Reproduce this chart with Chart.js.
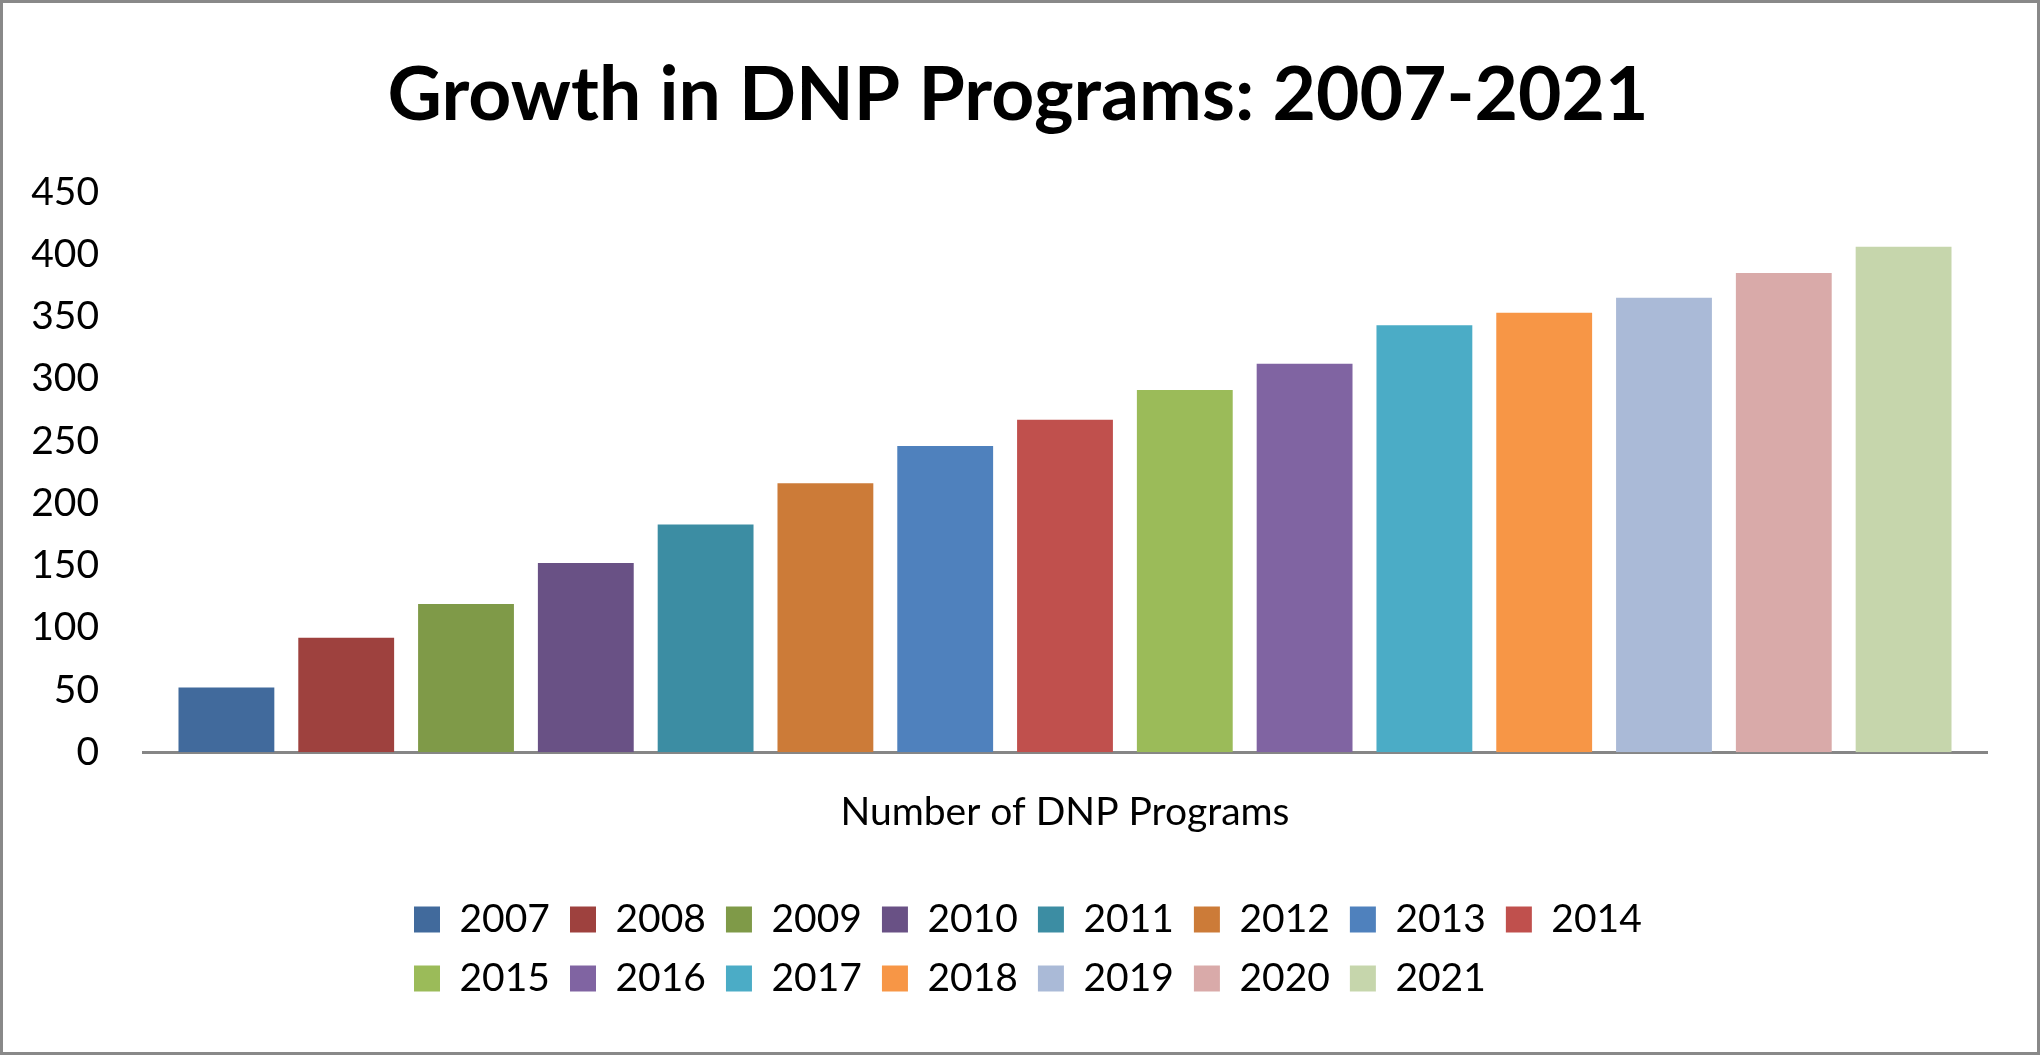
<!DOCTYPE html>
<html>
<head>
<meta charset="utf-8">
<script src="https://cdn.jsdelivr.net/npm/chart.js@4.4.1/dist/chart.umd.min.js"></script>
<style>
  html, body { margin: 0; padding: 0; background: #fff; }
  #wrap {
    width: 2040px; height: 1055px; box-sizing: border-box;
    border: 3px solid #898989; background: #fff;
  }
  canvas { display: block; }
</style>
</head>
<body>
<div id="wrap"><canvas id="dnpChart" width="2034" height="1049"></canvas></div>
<script>
// --- DATA ---
const years = ['2007', '2008', '2009', '2010', '2011', '2012', '2013', '2014',
               '2015', '2016', '2017', '2018', '2019', '2020', '2021'];
const programCounts = [52, 92, 119, 152, 183, 216, 246, 267, 291, 312, 343, 353, 365, 385, 406];
const categoryLabels = ['Number of DNP Programs'];
const yMin = 0, yMax = 450, yStep = 50;
const barColors = ['#416A9C', '#9E413E', '#7F9A48', '#695185', '#3C8DA3', '#CC7B38', '#4F81BD', '#C0504D',
                   '#9BBB59', '#8064A2', '#4BACC6', '#F79646', '#AABAD7', '#D9AAA9', '#C6D6AC'];
const chartTitle = 'Growth in DNP Programs: 2007-2021';

// --- STYLE ---
const FONT = 'Lato, "Open Sans", sans-serif';
const Y_AXIS_WIDTH = 114;
const TITLE_SHIFT = 10;          // title sits a bit right of the canvas centre
const LEGEND_PAD = 20;
const LEGEND_ROW_WIDTH = 1340;   // room for 8 items per row, like the original
const LEGEND_ROW_START = 411;    // x of the first legend square
const LEGEND_TOP = 877;

// legend: wrap after 8 items, rows start at the same x, placed under the axis label
const legendRows = {
    id: 'legendRows',
    beforeLayout(chart) {
        const lg = chart.legend;
        if (!lg || lg._rowsPatched) return;
        lg._rowsPatched = true;
        const fit = lg.fit;
        lg.fit = function () {
            const full = this.maxWidth;
            this.maxWidth = Math.min(full, LEGEND_ROW_WIDTH);
            fit.call(this);
            this.maxWidth = full;
        };
    },
    afterLayout(chart) {
        const lg = chart.legend;
        if (lg) {
            lg.left = LEGEND_ROW_START - LEGEND_PAD;
            lg.right = LEGEND_ROW_START + LEGEND_ROW_WIDTH;
            lg.width = lg.right - lg.left;
            const h = lg.height;
            lg.top = LEGEND_TOP;
            lg.bottom = LEGEND_TOP + h;
        }
        const tb = chart.titleBlock;
        if (tb) {
            tb.left += TITLE_SHIFT;
            tb.right += TITLE_SHIFT;
        }
    }
};

const datasets = years.map((y, i) => ({
    label: y,
    data: [programCounts[i]],
    backgroundColor: barColors[i],
    borderWidth: 0,
    categoryPercentage: 0.9745,
    barPercentage: 0.8
}));

new Chart(document.getElementById('dnpChart'), {
    type: 'bar',
    data: { labels: categoryLabels, datasets },
    plugins: [legendRows],
    options: {
        responsive: false,
        animation: false,
        layout: { padding: { left: 26, right: 50, top: 0, bottom: 88 } },
        plugins: {
            title: {
                display: true,
                text: chartTitle,
                color: '#000',
                font: { family: FONT, size: 75, weight: 'bold', lineHeight: 1.2 },
                padding: { top: 48, bottom: 51 }
            },
            legend: {
                position: 'bottom',
                align: 'start',
                labels: {
                    color: '#000',
                    font: { family: FONT, size: 39 },
                    boxWidth: 26,
                    boxHeight: 26,
                    padding: LEGEND_PAD
                }
            },
            tooltip: { enabled: false }
        },
        scales: {
            x: {
                grid: { display: false, drawTicks: false },
                border: { display: true, color: '#868686', width: 3 },
                ticks: { display: false },
                // the single category name sits under the axis
                title: {
                    display: true,
                    text: categoryLabels[0],
                    color: '#000',
                    font: { family: FONT, size: 39, lineHeight: 1.2 },
                    padding: { top: 37, bottom: 0 }
                }
            },
            y: {
                min: yMin,
                max: yMax,
                grid: { display: false, drawTicks: false },
                border: { display: false },
                ticks: { stepSize: yStep, color: '#000', font: { family: FONT, size: 39 }, padding: 44 },
                afterFit(scale) { scale.width = Y_AXIS_WIDTH; }
            }
        }
    }
});
</script>
</body>
</html>
